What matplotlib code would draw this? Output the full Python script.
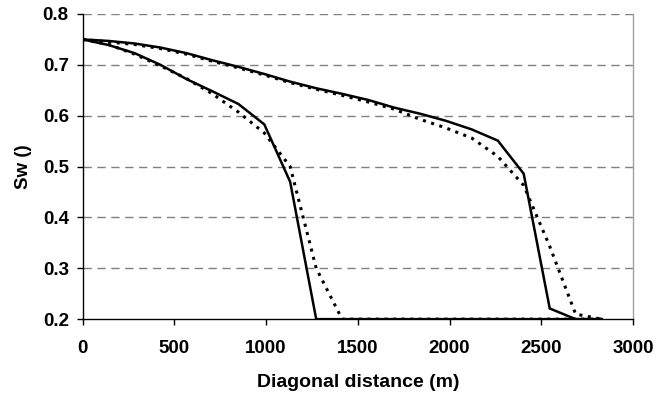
import matplotlib
matplotlib.use("Agg")
import matplotlib.pyplot as plt
from matplotlib.ticker import FormatStrFormatter

distance = [0, 141, 283, 424, 566, 707, 849, 990, 1131, 1273, 1414,
            1556, 1697, 1838, 1980, 2121, 2263, 2404, 2546, 2687, 2828]

sw_early_solid = [0.75, 0.739, 0.723, 0.700, 0.672, 0.648, 0.623, 0.583, 0.470, 0.2, 0.2,
                  0.2, 0.2, 0.2, 0.2, 0.2, 0.2, 0.2, 0.2, 0.2, 0.2]
sw_early_dotted = [0.75, 0.740, 0.721, 0.698, 0.673, 0.643, 0.607, 0.566, 0.500, 0.300, 0.2,
                   0.2, 0.2, 0.2, 0.2, 0.2, 0.2, 0.2, 0.2, 0.2, 0.2]
sw_late_solid = [0.75, 0.747, 0.742, 0.734, 0.723, 0.709, 0.696, 0.682, 0.667, 0.654, 0.643,
                 0.631, 0.616, 0.604, 0.590, 0.573, 0.551, 0.486, 0.221, 0.2, 0.2]
sw_late_dotted = [0.75, 0.745, 0.740, 0.732, 0.721, 0.707, 0.694, 0.680, 0.665, 0.652, 0.640,
                  0.627, 0.613, 0.593, 0.576, 0.556, 0.520, 0.463, 0.343, 0.210, 0.2]

x_ticks = [0, 500, 1000, 1500, 2000, 2500, 3000]
y_ticks = [0.2, 0.3, 0.4, 0.5, 0.6, 0.7, 0.8]

plt.rcParams['font.family'] = ['Liberation Sans', 'DejaVu Sans']

fig = plt.figure(figsize=(6.7, 3.94), dpi=100)
ax = fig.add_axes([0.1234, 0.190, 0.9448 - 0.1234, 0.9645 - 0.190])

for yv in y_ticks[1:]:
    ax.axhline(yv, color='#808080', lw=1.0, dashes=(6, 4), zorder=1)

dot_style = (0, (1.0, 1.8))
ax.plot(distance, sw_early_dotted, color='black', lw=2.2, linestyle=dot_style, zorder=3)
ax.plot(distance, sw_late_dotted, color='black', lw=2.2, linestyle=dot_style, zorder=3)
ax.plot(distance, sw_early_solid, color='black', lw=1.8, zorder=4, solid_joinstyle='miter')
ax.plot(distance, sw_late_solid, color='black', lw=1.8, zorder=4, solid_joinstyle='miter')

ax.set_xlim(0, 3000)
ax.set_ylim(0.2, 0.8)
ax.set_xticks(x_ticks)
ax.set_yticks(y_ticks)
ax.yaxis.set_major_formatter(FormatStrFormatter('%.1f'))

ax.spines['top'].set_visible(False)
ax.spines['right'].set_color('#a0a0a0')
ax.spines['right'].set_linewidth(1.0)
ax.spines['left'].set_color('black')
ax.spines['bottom'].set_color('black')
ax.spines['left'].set_linewidth(1.0)
ax.spines['bottom'].set_linewidth(1.0)

ax.tick_params(axis='both', direction='out', length=4, width=1.0, colors='black',
               labelsize=13.5)
for lab in ax.get_xticklabels() + ax.get_yticklabels():
    lab.set_fontweight('bold')
ax.tick_params(axis='x', pad=11)
ax.tick_params(axis='y', pad=6)

ax.set_xlabel('Diagonal distance (m)', fontsize=14, fontweight='bold', labelpad=12)
ax.set_ylabel('Sw ()', fontsize=13.5, fontweight='bold', labelpad=8)

fig.savefig('out.png', dpi=100)
